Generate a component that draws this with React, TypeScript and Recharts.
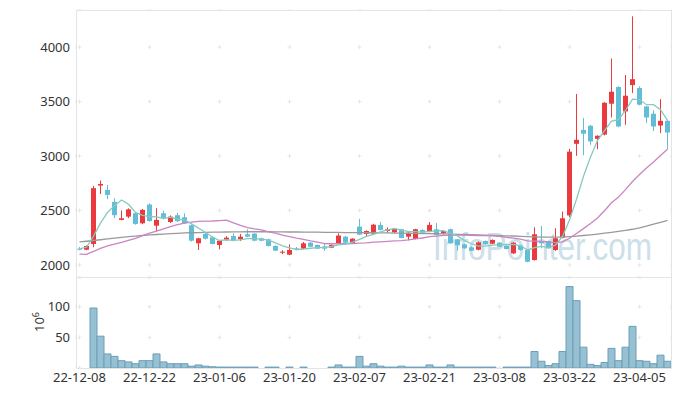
import React from 'react';
import { ComposedChart, Bar, Line, XAxis, YAxis, CartesianGrid } from 'recharts';

const dates = [
  '22-12-08', '22-12-09', '22-12-12', '22-12-13', '22-12-14', '22-12-15', '22-12-16', '22-12-19', '22-12-20', '22-12-21',
  '22-12-22', '22-12-23', '22-12-26', '22-12-27', '22-12-28', '22-12-29', '23-01-02', '23-01-03', '23-01-04', '23-01-05',
  '23-01-06', '23-01-09', '23-01-10', '23-01-11', '23-01-12', '23-01-13', '23-01-16', '23-01-17', '23-01-18', '23-01-19',
  '23-01-20', '23-01-25', '23-01-26', '23-01-27', '23-01-30', '23-01-31', '23-02-01', '23-02-02', '23-02-03', '23-02-06',
  '23-02-07', '23-02-08', '23-02-09', '23-02-10', '23-02-13', '23-02-14', '23-02-15', '23-02-16', '23-02-17', '23-02-20',
  '23-02-21', '23-02-22', '23-02-23', '23-02-24', '23-02-27', '23-02-28', '23-03-02', '23-03-03', '23-03-06', '23-03-07',
  '23-03-08', '23-03-09', '23-03-10', '23-03-13', '23-03-14', '23-03-15', '23-03-16', '23-03-17', '23-03-20', '23-03-21',
  '23-03-22', '23-03-23', '23-03-24', '23-03-27', '23-03-28', '23-03-29', '23-03-30', '23-03-31', '23-04-03', '23-04-04',
  '23-04-05', '23-04-06', '23-04-07', '23-04-10', '23-04-11',
];

const opens = [
  2150, 2140, 2193, 2729, 2689, 2579, 2414, 2444, 2475, 2383,
  2555, 2361, 2475, 2395, 2457, 2438, 2365, 2199, 2285, 2254,
  2184, 2233, 2266, 2236, 2282, 2288, 2245, 2236, 2175, 2113,
  2095, 2153, 2150, 2205, 2184, 2170, 2159, 2196, 2260, 2199,
  2352, 2285, 2288, 2368, 2312, 2300, 2328, 2260, 2239, 2322,
  2306, 2328, 2291, 2328, 2236, 2190, 2162, 2140, 2220, 2196,
  2205, 2178, 2107, 2178, 2138, 2046, 2220, 2220, 2138, 2251,
  2455, 3112, 3240, 3278, 3158, 3197, 3480, 3633, 3409, 3651,
  3624, 3455, 3388, 3280, 3323,
];

const highs = [
  2165, 2180, 2726, 2775, 2735, 2613, 2500, 2520, 2485, 2515,
  2565, 2521, 2500, 2455, 2478, 2475, 2372, 2250, 2295, 2262,
  2228, 2265, 2291, 2285, 2328, 2293, 2250, 2242, 2180, 2135,
  2190, 2165, 2211, 2210, 2188, 2195, 2190, 2291, 2268, 2245,
  2423, 2318, 2378, 2395, 2345, 2340, 2332, 2300, 2332, 2328,
  2395, 2385, 2318, 2335, 2240, 2195, 2170, 2215, 2225, 2235,
  2210, 2182, 2210, 2185, 2140, 2346, 2358, 2225, 2337, 2490,
  3066, 3570, 3348, 3285, 3190, 3495, 3895, 3640, 3744, 4282,
  3640, 3460, 3420, 3522, 3330,
];

const lows = [
  2135, 2135, 2163, 2652, 2604, 2429, 2410, 2430, 2370, 2375,
  2398, 2312, 2420, 2385, 2395, 2378, 2215, 2138, 2235, 2188,
  2144, 2220, 2218, 2220, 2255, 2218, 2218, 2170, 2128, 2100,
  2090, 2135, 2145, 2165, 2148, 2130, 2155, 2190, 2200, 2195,
  2275, 2260, 2285, 2318, 2295, 2295, 2245, 2226, 2235, 2292,
  2300, 2272, 2285, 2195, 2131, 2150, 2128, 2135, 2185, 2190,
  2165, 2143, 2100, 2133, 2025, 2040, 2153, 2150, 2130, 2245,
  2440, 3002, 3008, 3103, 3063, 3190, 3354, 3265, 3287, 3578,
  3465, 3303, 3230, 3210, 3063,
];

const closes = [
  2145, 2175, 2705, 2744, 2643, 2457, 2429, 2511, 2377, 2506,
  2404, 2414, 2434, 2444, 2402, 2383, 2223, 2245, 2242, 2193,
  2223, 2251, 2223, 2260, 2260, 2223, 2223, 2175, 2132, 2122,
  2138, 2144, 2199, 2168, 2150, 2150, 2184, 2270, 2205, 2242,
  2279, 2312, 2370, 2322, 2328, 2334, 2248, 2297, 2328, 2297,
  2368, 2276, 2312, 2199, 2181, 2153, 2131, 2208, 2190, 2230,
  2168, 2147, 2205, 2138, 2030, 2282, 2199, 2153, 2245, 2429,
  3040, 3149, 3205, 3134, 3186, 3489, 3590, 3271, 3553, 3705,
  3471, 3354, 3271, 3323, 3216,
];

// 거래량 (백만주)
const volumes = [
  0, 0, 98, 52, 23, 19, 12, 10, 7, 12,
  12, 23, 10, 7, 7, 7, 3, 5, 3, 2,
  1.5, 1.5, 1.5, 1.5, 1.5, 1.5, 0, 1.5, 1.5, 0,
  1.5, 0, 1.5, 0, 0, 0, 1.5, 5, 1.5, 1.5,
  19, 3, 7, 3, 1.5, 1.5, 3, 1.5, 1.5, 1.5,
  5, 1.5, 1.5, 5, 1.5, 1.5, 1.5, 1.5, 1.5, 1.5,
  0, 1.5, 1.5, 1.5, 1.5, 27, 11, 4, 7, 27,
  133, 110, 34, 6, 4, 9, 32, 12, 34, 68,
  12, 11, 7, 21, 11,
];

const ma5 = [
  2147, 2163, 2265, 2384, 2482, 2545, 2596, 2557, 2483, 2456,
  2445, 2442, 2427, 2440, 2420, 2415, 2377, 2339, 2299, 2257,
  2225, 2231, 2226, 2230, 2243, 2243, 2238, 2228, 2203, 2175,
  2158, 2142, 2147, 2154, 2160, 2162, 2170, 2184, 2192, 2210,
  2236, 2262, 2282, 2305, 2322, 2333, 2320, 2306, 2307, 2301,
  2308, 2313, 2316, 2290, 2267, 2224, 2195, 2174, 2173, 2182,
  2185, 2189, 2188, 2178, 2138, 2160, 2171, 2160, 2182, 2262,
  2413, 2603, 2814, 2991, 3143, 3233, 3321, 3334, 3418, 3522,
  3518, 3471, 3471, 3425, 3327,
];

const ma20 = [
  2100, 2098, 2125, 2153, 2175, 2192, 2207, 2226, 2245, 2270,
  2292, 2312, 2332, 2352, 2370, 2384, 2394, 2400, 2402, 2404,
  2408, 2412, 2387, 2363, 2344, 2332, 2322, 2305, 2293, 2274,
  2261, 2247, 2235, 2221, 2209, 2197, 2195, 2197, 2195, 2197,
  2200, 2203, 2210, 2213, 2217, 2222, 2224, 2230, 2240, 2248,
  2260, 2266, 2272, 2274, 2275, 2275, 2273, 2270, 2269, 2268,
  2263, 2254, 2246, 2237, 2222, 2219, 2217, 2210, 2206, 2212,
  2246, 2289, 2334, 2381, 2431, 2498, 2571, 2624, 2692, 2766,
  2831, 2891, 2945, 3004, 3063,
];

const maLong = [
  2212, 2218, 2225, 2232, 2240, 2247, 2254, 2260, 2266, 2271,
  2276, 2280, 2284, 2288, 2291, 2294, 2296, 2298, 2300, 2301,
  2302, 2303, 2304, 2304, 2305, 2305, 2305, 2305, 2304, 2304,
  2303, 2303, 2302, 2302, 2301, 2300, 2300, 2299, 2298, 2298,
  2297, 2296, 2296, 2295, 2294, 2293, 2292, 2291, 2290, 2289,
  2288, 2287, 2285, 2284, 2282, 2280, 2278, 2276, 2274, 2272,
  2270, 2268, 2266, 2263, 2260, 2258, 2256, 2255, 2255, 2256,
  2260, 2265, 2271, 2277, 2284, 2292, 2300, 2309, 2318, 2328,
  2340, 2357, 2375, 2392, 2410,
];

const xTicks = ['22-12-08', '22-12-22', '23-01-06', '23-01-20', '23-02-07', '23-02-21', '23-03-08', '23-03-22', '23-04-05'];
const priceTicks = [2000, 2500, 3000, 3500, 4000];
const volumeTicks = [50, 100];

const UP = '#ea3a3d';
const DOWN = '#62bdd6';
const FONT = '"Noto Sans", sans-serif';

const rows = dates.map((date, i) => ({
  date,
  open: opens[i],
  high: highs[i],
  low: lows[i],
  close: closes[i],
  range: [lows[i], highs[i]],
  volume: volumes[i],
  ma5: ma5[i],
  ma20: ma20[i],
  maLong: maLong[i],
}));

const Candle = (props: any) => {
  const { x, y, width, height, payload } = props;
  const { open, close, high, low } = payload;
  const top = Math.min(y, y + height);
  const span = Math.abs(height);
  const k = high === low ? 0 : span / (high - low);
  const bodyTop = top + (high - Math.max(open, close)) * k;
  const bodyH = Math.max(1, Math.abs(open - close) * k);
  const color = close >= open ? UP : DOWN;
  const cx = x + width / 2;
  return (
    <g>
      <rect x={cx - 0.5} y={top} width={1} height={Math.max(span, 1)} fill={color} />
      <rect x={x} y={bodyTop} width={width} height={bodyH} fill={color} />
    </g>
  );
};

// grid drawn as short crosses: dashes on each grid line that meet at the tick crossings
const crossLine = (gap: number, offset: number) => (p: any) => (
  <line
    key={p.key}
    x1={p.x1}
    y1={p.y1}
    x2={p.x2}
    y2={p.y2}
    stroke="#e6e6e6"
    strokeWidth={1}
    strokeDasharray={`4 ${gap - 4}`}
    strokeDashoffset={offset}
  />
);

const tickStyle = { fontSize: 13, fill: '#333', fontFamily: FONT };

export default function App() {
  // price panel: plot 76..671 x 10..277, band 7px; ticks every 10 bars = 70px
  const pxPer500 = (500 * 267) / (4340 - 1890);
  const firstPriceY = ((4340 - 4000) * 267) / (4340 - 1890);
  const volPer50 = (50 * 90) / 147;
  const firstVolY = ((147 - 100) * 90) / 147;
  return (
    <div style={{ position: 'absolute', left: 0, top: 0, width: 680, height: 396, background: '#fff', overflow: 'hidden' }}>
      <div
        style={{
          position: 'absolute',
          left: 433,
          top: 225,
          fontFamily: '"Liberation Sans", Arial, sans-serif',
          fontSize: 38,
          color: '#cddfe9',
          transform: 'scaleX(0.83)',
          transformOrigin: 'left top',
          whiteSpace: 'nowrap',
          lineHeight: '44px',
        }}
      >
        InfoPointer.com
      </div>

      <div style={{ position: 'absolute', left: 0, top: 0 }}>
        <ComposedChart width={680} height={278} data={rows} margin={{ top: 10, right: 9, bottom: 1, left: 6 }}>
          <CartesianGrid
            horizontal={crossLine(70, 70 - 1.5)}
            vertical={crossLine(pxPer500, pxPer500 - (firstPriceY - 2))}
          />
          <XAxis dataKey="date" type="category" ticks={xTicks} interval={0} hide />
          <YAxis
            domain={[1890, 4340]}
            ticks={priceTicks}
            allowDataOverflow
            width={70}
            axisLine={false}
            tickLine={false}
            tickSize={0}
            tickMargin={6}
            tick={tickStyle}
          />
          <Line type="linear" dataKey="maLong" stroke="#9a9a9a" strokeWidth={1.3} dot={false} isAnimationActive={false} />
          <Line type="linear" dataKey="ma20" stroke="#c985c3" strokeWidth={1.3} dot={false} isAnimationActive={false} />
          <Bar dataKey="range" barSize={5} shape={Candle} isAnimationActive={false} />
          <Line type="linear" dataKey="ma5" stroke="#88c9bf" strokeWidth={1.3} dot={false} isAnimationActive={false} />
        </ComposedChart>
      </div>

      <div style={{ position: 'absolute', left: 0, top: 278 }}>
        <ComposedChart width={680} height={118} data={rows} barCategoryGap={0} margin={{ top: 0, right: 9, bottom: 0, left: 6 }}>
          <CartesianGrid
            horizontal={crossLine(70, 70 - 1.5)}
            vertical={crossLine(volPer50, volPer50 - (firstVolY - 2))}
          />
          <XAxis
            dataKey="date"
            type="category"
            ticks={xTicks}
            interval={0}
            height={28}
            axisLine={false}
            tickLine={false}
            tickSize={0}
            tickMargin={5}
            tick={tickStyle}
          />
          <YAxis
            domain={[0, 147]}
            ticks={volumeTicks}
            allowDataOverflow
            width={70}
            axisLine={false}
            tickLine={false}
            tickSize={0}
            tickMargin={6}
            tick={tickStyle}
          />
          <Bar dataKey="volume" fill="#97c0d2" stroke="#6a9fb8" strokeWidth={1} isAnimationActive={false} />
        </ComposedChart>
      </div>

      <div
        style={{
          position: 'absolute',
          left: 26,
          top: 312,
          width: 20,
          height: 20,
          fontFamily: FONT,
          fontSize: 13,
          color: '#333',
          transform: 'rotate(-90deg)',
          whiteSpace: 'nowrap',
          lineHeight: '20px',
        }}
      >
        10<sup style={{ fontSize: 9 }}>6</sup>
      </div>

      <div style={{ position: 'absolute', left: 76, top: 10, width: 596, height: 268, boxSizing: 'border-box', border: '1px solid #e4e4e4', pointerEvents: 'none' }} />
      <div style={{ position: 'absolute', left: 76, top: 277, width: 596, height: 92, boxSizing: 'border-box', border: '1px solid #e4e4e4', pointerEvents: 'none' }} />
    </div>
  );
}
